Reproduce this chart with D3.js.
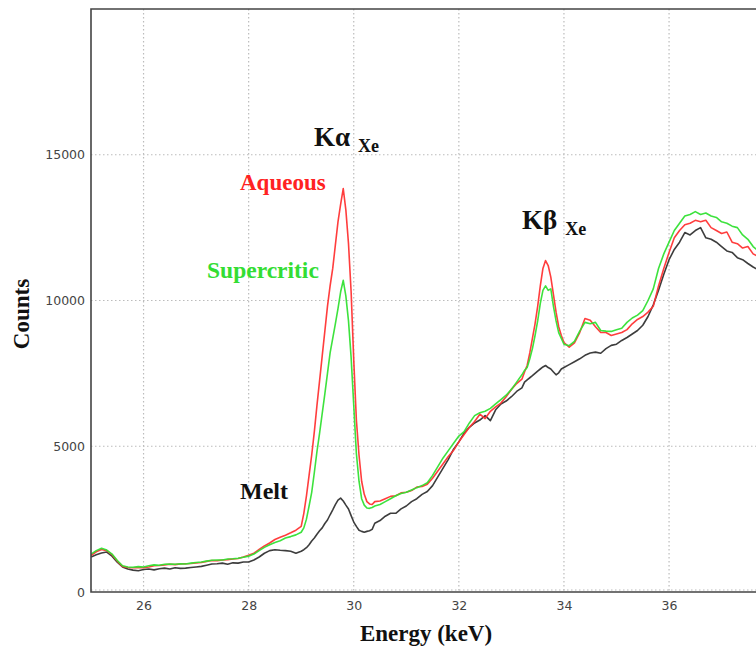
<!DOCTYPE html>
<html>
<head>
<meta charset="utf-8">
<script src="https://cdn.jsdelivr.net/npm/d3@7"></script>
<style>
  html, body { margin: 0; padding: 0; background: #fff; }
  svg { display: block; }
</style>
</head>
<body>
<svg id="chart" width="756" height="654"></svg>
<script>
// ---------------- DATA ----------------
const energy = [
  25.0,25.1,25.2,25.3,25.4,25.5,25.6,25.7,25.8,25.9,26.0,26.1,26.2,26.3,26.4,26.5,26.6,26.7,26.8,26.9,
  27.0,27.1,27.2,27.3,27.4,27.5,27.6,27.7,27.8,27.9,28.0,28.1,28.2,28.3,28.4,28.5,28.6,28.7,28.8,28.9,29.0,
  29.05,29.1,29.15,29.2,29.25,29.3,29.35,29.4,29.45,29.5,29.55,29.6,29.65,29.7,29.75,29.8,29.85,29.9,29.95,
  30.0,30.05,30.1,30.15,30.2,30.25,30.3,30.35,30.4,
  30.5,30.6,30.7,30.8,30.9,31.0,31.1,31.2,31.3,31.4,31.5,31.6,31.7,31.8,31.9,32.0,32.1,32.2,32.3,32.4,
  32.5,32.6,32.7,32.8,32.9,33.0,33.1,33.2,
  33.25,33.3,33.35,33.4,33.45,33.5,33.55,33.6,33.65,33.7,33.75,33.8,33.85,33.9,33.95,
  34.0,34.1,34.2,34.3,34.4,34.5,34.6,34.7,34.8,34.9,35.0,35.1,35.2,35.3,35.4,35.5,35.6,35.7,35.8,35.9,
  36.0,36.1,36.2,36.3,36.4,36.5,36.6,36.7,36.8,36.9,37.0,37.1,37.2,37.3,37.4,37.5,37.6,37.7,37.8,37.9,38.0
];

const melt = [
  1200,1280,1340,1370,1230,1020,860,790,750,730,770,790,760,800,820,790,830,810,820,840,
  860,880,920,960,970,990,950,1000,990,1030,1030,1100,1200,1330,1420,1450,1430,1420,1400,1330,1400,
  1450,1520,1620,1750,1850,1980,2100,2200,2350,2470,2650,2820,3000,3150,3220,3120,2980,2850,2620,
  2400,2250,2120,2080,2050,2080,2100,2150,
  2360,2450,2600,2700,2700,2850,2950,3100,3200,3350,3450,3650,3950,4250,4550,4900,5150,5450,5650,5800,
  5900,6050,5880,6250,6450,6550,6700,6880,
  7000,7200,7280,7350,7420,7500,7580,7650,7720,7770,7700,7650,7550,7450,7520,
  7650,7700,7800,7900,8000,8120,8200,8230,8190,8350,8460,8500,8630,8730,8850,8970,9150,9450,9850,10350,
  10900,11400,11750,12000,12330,12250,12400,12500,12150,12100,12000,11850,11700,11650,11470,11400,11270,11150,11050,10950,10850
];

const aqueous = [
  1250,1380,1460,1420,1280,1060,880,840,830,840,830,860,900,910,930,950,940,960,970,980,
  1000,1010,1050,1080,1070,1100,1110,1130,1150,1200,1260,1330,1460,1580,1680,1800,1880,1950,2030,2120,2250,
  2700,3300,4000,4700,5500,6400,7250,8100,8950,9800,10500,11100,11900,12700,13300,13840,13100,11950,10300,
  7950,5900,4700,3800,3350,3100,3020,3000,3100,
  3120,3200,3280,3300,3400,3420,3480,3600,3620,3700,3900,4150,4400,4650,4860,5150,5400,5650,5850,6100,
  5950,6200,6350,6480,6700,6950,7150,7300,
  7550,7770,8200,8700,9200,9800,10500,11100,11370,11200,10800,10200,9600,9100,8800,
  8560,8400,8550,8900,9380,9320,9100,8900,8900,8800,8850,8900,9000,9200,9350,9450,9600,9800,10500,11100,
  11650,12150,12400,12600,12650,12750,12700,12750,12500,12400,12300,12350,12000,11950,11800,11850,11600,11500,11400,11300,11200
];

const supercritic = [
  1300,1420,1500,1440,1300,1080,900,860,850,870,860,900,930,920,950,960,950,970,960,990,
  1010,1030,1060,1090,1100,1100,1130,1140,1160,1190,1230,1300,1420,1530,1620,1700,1760,1850,1900,1960,2050,
  2200,2500,2950,3420,4100,4820,5450,6130,6800,7500,8200,8700,9200,9720,10290,10690,10150,9300,8050,
  6400,4750,3800,3200,2980,2880,2870,2900,2950,
  3000,3100,3200,3300,3380,3420,3500,3580,3650,3750,4000,4300,4600,4850,5100,5350,5500,5800,6050,6150,
  6200,6300,6450,6600,6750,6950,7200,7450,
  7600,7700,8000,8350,8800,9300,9900,10350,10500,10350,10400,9800,9300,8900,8700,
  8500,8450,8600,8950,9250,9200,9250,8970,8950,8940,9000,9050,9250,9400,9500,9650,10000,10400,11100,11600,
  12000,12400,12650,12900,12950,13050,12950,13000,12900,12850,12700,12650,12550,12500,12250,12100,11850,11700,11550,11450,11350
];

const xTicks = [26, 28, 30, 32, 34, 36];
const yTicks = [0, 5000, 10000, 15000];

const seriesNames = ["Melt", "Aqueous", "Supercritic"];
const seriesColors = ["#333333", "#ff3333", "#33e033"];

// ---------------- LAYOUT ----------------
const svg = d3.select("#chart");
const mLeft = 91, mTop = 9, mBottom = 592;
const xMax = 38;
const pxPerKeV = 52.55;
const mRight = mLeft + (xMax - 25) * pxPerKeV;

const x = d3.scaleLinear().domain([25, xMax]).range([mLeft, mRight]);
const y = d3.scaleLinear().domain([0, 20000]).range([mBottom, mTop]);

svg.append("defs").append("clipPath").attr("id", "plotclip")
  .append("rect").attr("x", mLeft).attr("y", mTop).attr("width", mRight - mLeft).attr("height", mBottom - mTop);

// grid
const grid = svg.append("g").attr("class", "grid");
grid.selectAll("line.vx").data(xTicks).enter().append("line")
  .attr("x1", d => x(d)).attr("x2", d => x(d)).attr("y1", mTop).attr("y2", mBottom)
  .attr("stroke", "#bcbcbc").attr("stroke-width", 1.2).attr("stroke-dasharray", "1.5,2.5");
grid.selectAll("line.hy").data(yTicks).enter().append("line")
  .attr("x1", mLeft).attr("x2", mRight)
  .attr("y1", d => y(d) - (d === 0 ? 2 : 0)).attr("y2", d => y(d) - (d === 0 ? 2 : 0))
  .attr("stroke", "#bcbcbc").attr("stroke-width", 1.2).attr("stroke-dasharray", "1.5,2.5");

// axes (labels only; lines drawn as frame)
const xAxis = d3.axisBottom(x).tickValues(xTicks).tickSize(0).tickPadding(9).tickFormat(d3.format("d"));
const yAxis = d3.axisLeft(y).tickValues(yTicks).tickSize(0).tickPadding(6).tickFormat(d3.format("d"));

const gx = svg.append("g").attr("transform", `translate(0,${mBottom})`).call(xAxis);
const gy = svg.append("g").attr("transform", `translate(${mLeft},0)`).call(yAxis);
[gx, gy].forEach(g => {
  g.select(".domain").remove();
  g.selectAll("text").attr("font-family", "'DejaVu Sans', sans-serif").attr("font-size", 12.5).attr("fill", "#444");
});

// lines
const line = d3.line().x((d, i) => x(energy[i])).y(d => y(d));
const plot = svg.append("g").attr("clip-path", "url(#plotclip)");
[melt, aqueous, supercritic].forEach((vals, k) => {
  plot.append("path").datum(vals).attr("d", line)
    .attr("fill", "none").attr("stroke", seriesColors[k]).attr("stroke-width", 1.6)
    .attr("stroke-linejoin", "round").attr("opacity", 0.95);
});

// frame
svg.append("path")
  .attr("d", `M${mRight},${mTop}H${mLeft}V${mBottom}H${mRight}`)
  .attr("fill", "none").attr("stroke", "#444").attr("stroke-width", 1.6);

// axis titles
const serif = "'Liberation Serif', 'Times New Roman', serif";
svg.append("text").attr("x", 426).attr("y", 641).attr("text-anchor", "middle")
  .attr("font-family", serif).attr("font-weight", "bold").attr("font-size", 23).attr("fill", "#111")
  .text("Energy (keV)");
svg.append("text").attr("transform", "translate(29,314) rotate(-90)").attr("text-anchor", "middle")
  .attr("font-family", serif).attr("font-weight", "bold").attr("font-size", 23).attr("fill", "#111")
  .text("Counts");

// annotations
function peakLabel(px, py, sym) {
  const t = svg.append("text").attr("x", px).attr("y", py)
    .attr("font-family", serif).attr("font-weight", "bold").attr("font-size", 27).attr("fill", "#111");
  t.append("tspan").text("K" + sym);
  t.append("tspan").attr("dx", 8).attr("dy", 6).attr("font-size", 18).text("Xe");
}
peakLabel(314, 146, "α");
peakLabel(522, 229, "β");

svg.append("text").attr("x", 240).attr("y", 190)
  .attr("font-family", serif).attr("font-weight", "bold").attr("font-size", 23).attr("fill", "#ff2222")
  .text(seriesNames[1]);
svg.append("text").attr("x", 207).attr("y", 278)
  .attr("font-family", serif).attr("font-weight", "bold").attr("font-size", 23.5).attr("fill", "#33dd33")
  .text(seriesNames[2]);
svg.append("text").attr("x", 240).attr("y", 499)
  .attr("font-family", serif).attr("font-weight", "bold").attr("font-size", 24).attr("fill", "#111")
  .text(seriesNames[0]);
</script>
</body>
</html>
